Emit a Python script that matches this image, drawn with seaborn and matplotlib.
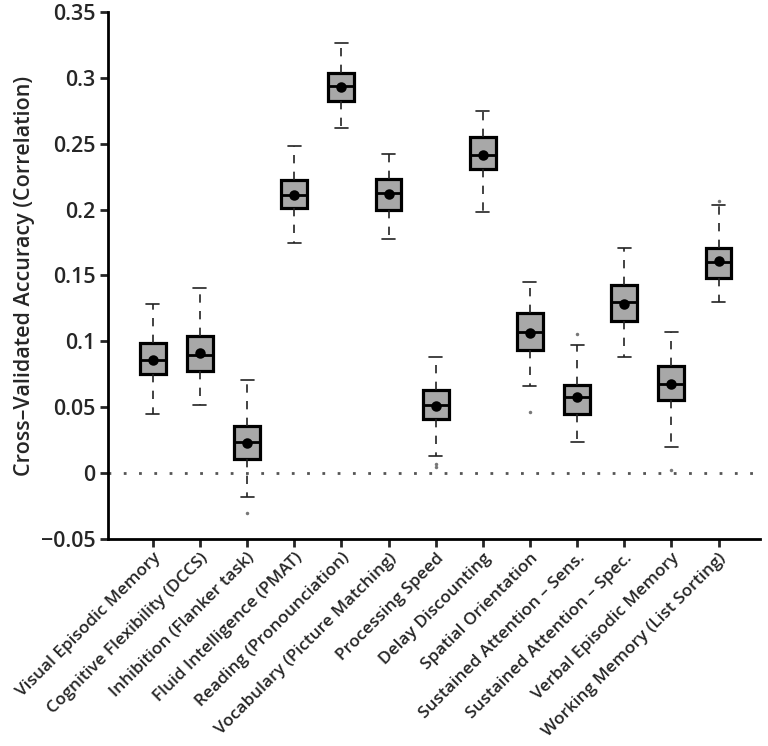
import numpy as np
import pandas as pd
import matplotlib
matplotlib.use("Agg")
import matplotlib.pyplot as plt
import seaborn as sns

# ==========================================
# Data
# ==========================================

tasks = [
    "Visual Episodic Memory",
    "Cognitive Flexibility (DCCS)",
    "Inhibition (Flanker task)",
    "Fluid Intelligence (PMAT)",
    "Reading (Pronounciation)",
    "Vocabulary (Picture Matching)",
    "Processing Speed",
    "Delay Discounting",
    "Spatial Orientation",
    "Sustained Attention \u2013 Sens.",
    "Sustained Attention \u2013 Spec.",
    "Verbal Episodic Memory",
    "Working Memory (List Sorting)",
]

whisk_lo = [0.045, 0.052, -0.018, 0.1745, 0.262, 0.178, 0.013, 0.1985, 0.066, 0.0235, 0.088, 0.020, 0.1295]
q1 = [0.075, 0.0775, 0.011, 0.2013, 0.2826, 0.1998, 0.0407, 0.2305, 0.0932, 0.0447, 0.1157, 0.0558, 0.1477]
median = [0.0856, 0.090, 0.0237, 0.2114, 0.294, 0.2126, 0.0515, 0.2414, 0.107, 0.0578, 0.1298, 0.068, 0.1604]
q3 = [0.0987, 0.1038, 0.0356, 0.2225, 0.3038, 0.2235, 0.0634, 0.2548, 0.1215, 0.0672, 0.143, 0.081, 0.1705]
whisk_hi = [0.128, 0.1407, 0.0705, 0.2485, 0.3265, 0.2422, 0.0881, 0.275, 0.1447, 0.097, 0.1705, 0.107, 0.2038]
means = [0.086, 0.091, 0.023, 0.211, 0.293, 0.2118, 0.0508, 0.2414, 0.1066, 0.058, 0.1285, 0.0674, 0.1606]

outlier_task = [
    "Inhibition (Flanker task)",
    "Processing Speed",
    "Processing Speed",
    "Spatial Orientation",
    "Sustained Attention \u2013 Sens.",
    "Verbal Episodic Memory",
    "Working Memory (List Sorting)",
]
outlier_value = [-0.030, 0.0068, 0.0045, 0.0467, 0.1058, 0.002, 0.2068]

yticks = [-0.05, 0, 0.05, 0.1, 0.15, 0.2, 0.25, 0.3, 0.35]
ytick_labels = ["\u22120.05", "0", "0.05", "0.1", "0.15", "0.2", "0.25", "0.3", "0.35"]

# five-number table -> long form (whiskers at min/max)
rows = []
for i, t in enumerate(tasks):
    for v in (whisk_lo[i], q1[i], median[i], q3[i], whisk_hi[i]):
        rows.append({"task": t, "value": v})
df = pd.DataFrame(rows)

out_df = pd.DataFrame({"task": outlier_task, "value": outlier_value})
mean_df = pd.DataFrame({"task": tasks, "value": means})

# ==========================================
# Plot
# ==========================================

sns.set_style("ticks")
plt.rcParams["font.family"] = ["Open Sans", "DejaVu Sans"]
plt.rcParams["font.weight"] = "semibold"

fig = plt.figure(figsize=(7.68, 7.46), dpi=100)
ax = fig.add_axes([0.1406, 0.2775, 0.849, 0.7065])

ax.axhline(0, color="#555555", linestyle=(0, (1, 4.5)), linewidth=2, zorder=0)

sns.boxplot(
    data=df,
    x="task",
    y="value",
    order=tasks,
    whis=(0, 100),
    showfliers=False,
    color="#a8a8a8",
    saturation=1,
    linecolor="black",
    linewidth=2.3,
    width=0.55,
    whiskerprops=dict(linestyle=(0, (5, 5)), linewidth=1.2, color="#222222"),
    capprops=dict(linewidth=1.2, color="#222222"),
    medianprops=dict(linewidth=2, color="black"),
    ax=ax,
)

sns.stripplot(
    data=out_df,
    x="task",
    y="value",
    order=tasks,
    jitter=False,
    color="#777777",
    size=2.5,
    ax=ax,
)

sns.pointplot(
    data=mean_df,
    x="task",
    y="value",
    order=tasks,
    linestyle="none",
    markers="o",
    color="black",
    markersize=5.5,
    errorbar=None,
    ax=ax,
)

ax.set_xlim(-0.95, 12.88)
ax.set_ylim(-0.05, 0.35)
ax.set_yticks(yticks)
ax.set_yticklabels(ytick_labels)
ax.set_xticks(range(len(tasks)))
ax.set_xticklabels(tasks, rotation=45, ha="right", rotation_mode="anchor")

ax.set_xlabel("")
ax.set_ylabel("Cross\u2013Validated Accuracy (Correlation)", fontsize=15.5,
              fontweight="semibold", labelpad=4)

sns.despine(ax=ax)
for s in ("left", "bottom"):
    ax.spines[s].set_linewidth(2)
    ax.spines[s].set_color("black")

ax.tick_params(axis="y", direction="out", length=6, width=2, labelsize=15.5, pad=3)
ax.tick_params(axis="x", direction="out", length=6, width=2, labelsize=12.4, pad=2)

fig.savefig("out.png", dpi=100)
